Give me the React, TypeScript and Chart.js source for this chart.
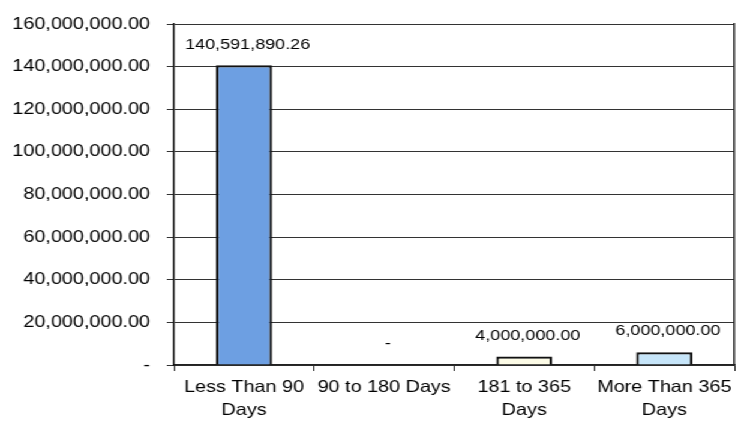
import React, { useEffect, useRef } from "react";
import { Chart, registerables } from "chart.js";

Chart.register(...registerables);

const categories: string[][] = [
  ["Less Than 90", "Days"],
  ["90 to 180 Days"],
  ["181 to 365", "Days"],
  ["More Than 365", "Days"],
];
const values: number[] = [140591890.26, 0, 4000000, 6000000];
const barColors: string[] = ["#6d9fe2", "#ffffff", "#fcfbe6", "#c6e5f9"];
const yMax = 160000000;
const yStep = 20000000;

const FONT = "'Liberation Sans', Arial, sans-serif";

const fmt = (v: number) =>
  v === 0
    ? "-"
    : v.toLocaleString("en-US", { minimumFractionDigits: 2, maximumFractionDigits: 2 });

const labelPlugin = {
  id: "barLabels",
  afterDatasetsDraw(chart: any) {
    const ctx = chart.ctx;
    const meta = chart.getDatasetMeta(0);
    ctx.save();
    ctx.font = `15px ${FONT}`;
    ctx.fillStyle = "#000";
    ctx.textAlign = "center";
    ctx.textBaseline = "middle";
    meta.data.forEach((el: any, i: number) => {
      const v = chart.data.datasets[0].data[i] as number;
      ctx.fillText(fmt(v), el.x + 3, el.y - 21);
    });
    ctx.restore();
  },
};

export default function App() {
  const ref = useRef<HTMLCanvasElement | null>(null);
  useEffect(() => {
    if (!ref.current) return;
    const chart = new Chart(ref.current, {
      type: "bar",
      data: {
        labels: categories as any,
        datasets: [
          {
            data: values,
            backgroundColor: barColors,
            borderColor: "#111",
            borderWidth: 2.2,
            barPercentage: 0.4,
            categoryPercentage: 1,
          },
        ],
      },
      options: {
        animation: false,
        responsive: true,
        maintainAspectRatio: false,
        layout: { padding: { top: 24, right: 0, bottom: 0, left: 0 } },
        plugins: { legend: { display: false }, tooltip: { enabled: false } },
        scales: {
          x: {
            grid: {
              display: true,
              offset: true,
              drawOnChartArea: false,
              drawTicks: true,
              tickLength: 6,
              color: "#222",
              lineWidth: 1,
            },
            border: { display: true, color: "#222", width: 1.5 },
            ticks: {
              color: "#000",
              font: { family: FONT, size: 16.5, lineHeight: 1.45 },
              padding: 4,
              maxRotation: 0,
              autoSkip: false,
            },
            afterFit(scale: any) {
              scale.height = 68;
            },
          },
          y: {
            min: 0,
            max: yMax,
            ticks: {
              stepSize: yStep,
              color: "#000",
              font: { family: FONT, size: 16.5 },
              padding: 14,
              callback: (v: any) => fmt(Number(v)),
            },
            grid: {
              color: "#333",
              lineWidth: 1,
              drawTicks: true,
              tickLength: 6,
            },
            border: { display: true, color: "#111", width: 1.5 },
            afterFit(scale: any) {
              scale.width = 145;
            },
          },
          y2: {
            position: "right",
            min: 0,
            max: yMax,
            ticks: { display: false },
            grid: { drawOnChartArea: false, drawTicks: false },
            border: { display: true, color: "#222", width: 1.5 },
            afterFit(scale: any) {
              scale.width = 8;
            },
          },
        },
      },
      plugins: [labelPlugin],
    });
    return () => chart.destroy();
  }, []);

  return (
    <div
      style={{
        position: "fixed",
        left: 0,
        top: 0,
        width: 620,
        height: 433,
        transform: "scaleX(1.2)",
        transformOrigin: "0 0",
        background: "#fff",
      }}
    >
      <canvas ref={ref} />
    </div>
  );
}
